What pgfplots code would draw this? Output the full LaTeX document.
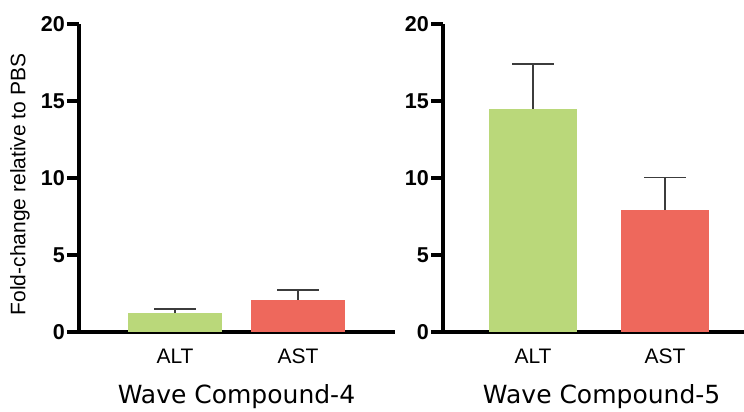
\documentclass[border=0pt]{standalone}
\usepackage{pgfplots}
\pgfplotsset{compat=1.18}
\usepackage{fontspec}
\setmainfont{Liberation Sans}
\newfontfamily\titlefont{DejaVu Sans}
\definecolor{altgreen}{RGB}{186,216,122}
\definecolor{astred}{RGB}{238,104,92}
\definecolor{errgray}{RGB}{60,60,60}
\pgfplotsset{
  panel/.style={
    scale only axis, height=308pt, anchor=south west,
    axis x line=bottom, axis y line=left,
    axis line style={-, line width=3.4pt, black},
    x axis line style={-, line width=3.4pt, black},
    y axis line style={-, line width=3.4pt, black},
    ymin=0, ymax=20, ytick={0,5,10,15,20},
    tick align=outside, major tick length=12pt,
    ytick style={line width=3.2pt, black},
    xtick={0,1}, xticklabels={ALT,AST}, xtick style={draw=none},
    /pgf/number format/assume math mode=true,
    yticklabel style={font=\bfseries\fontsize{21.5}{22}\selectfont, inner sep=2pt},
    xticklabel style={font=\fontsize{21}{21}\selectfont, anchor=base, yshift=-19pt},
    clip=false,
    error bars/y dir=plus, error bars/y explicit,
    error bars/error bar style={line width=1.6pt, errgray},
    error bars/error mark options={rotate=90, mark size=21pt, line width=1.6pt, errgray},
  }
}
\begin{document}
\begin{tikzpicture}
\path[use as bounding box] (0,0) rectangle (744pt,412pt);
\begin{axis}[panel, at={(79pt,80pt)}, width=316pt, xmin=-0.7805, xmax=1.7886,
  ylabel={Fold-change relative to PBS},
  ylabel style={at={(axis description cs:-0.187,0.479)}, anchor=center, font=\fontsize{21}{21}\selectfont}]
\addplot[ybar, bar width=94pt, bar shift=0pt, fill=altgreen, draw=none] coordinates {(0,1.23) +- (0,0.27)};
\addplot[ybar, bar width=94pt, bar shift=0pt, fill=astred, draw=none] coordinates {(1,2.08) +- (0,0.65)};
\node[anchor=base, yshift=-72pt, font=\titlefont\fontsize{25}{25}\selectfont] at (axis cs:0.5,0) {Wave Compound-4};
\end{axis}
\begin{axis}[panel, at={(443pt,80pt)}, width=301pt, xmin=-0.6818, xmax=1.5985]
\addplot[ybar, bar width=88pt, bar shift=0pt, fill=altgreen, draw=none] coordinates {(0,14.5) +- (0,2.9)};
\addplot[ybar, bar width=88pt, bar shift=0pt, fill=astred, draw=none] coordinates {(1,7.92) +- (0,2.12)};
\node[anchor=base, yshift=-72pt, font=\titlefont\fontsize{25}{25}\selectfont] at (axis cs:0.52,0) {Wave Compound-5};
\end{axis}
\end{tikzpicture}
\end{document}
